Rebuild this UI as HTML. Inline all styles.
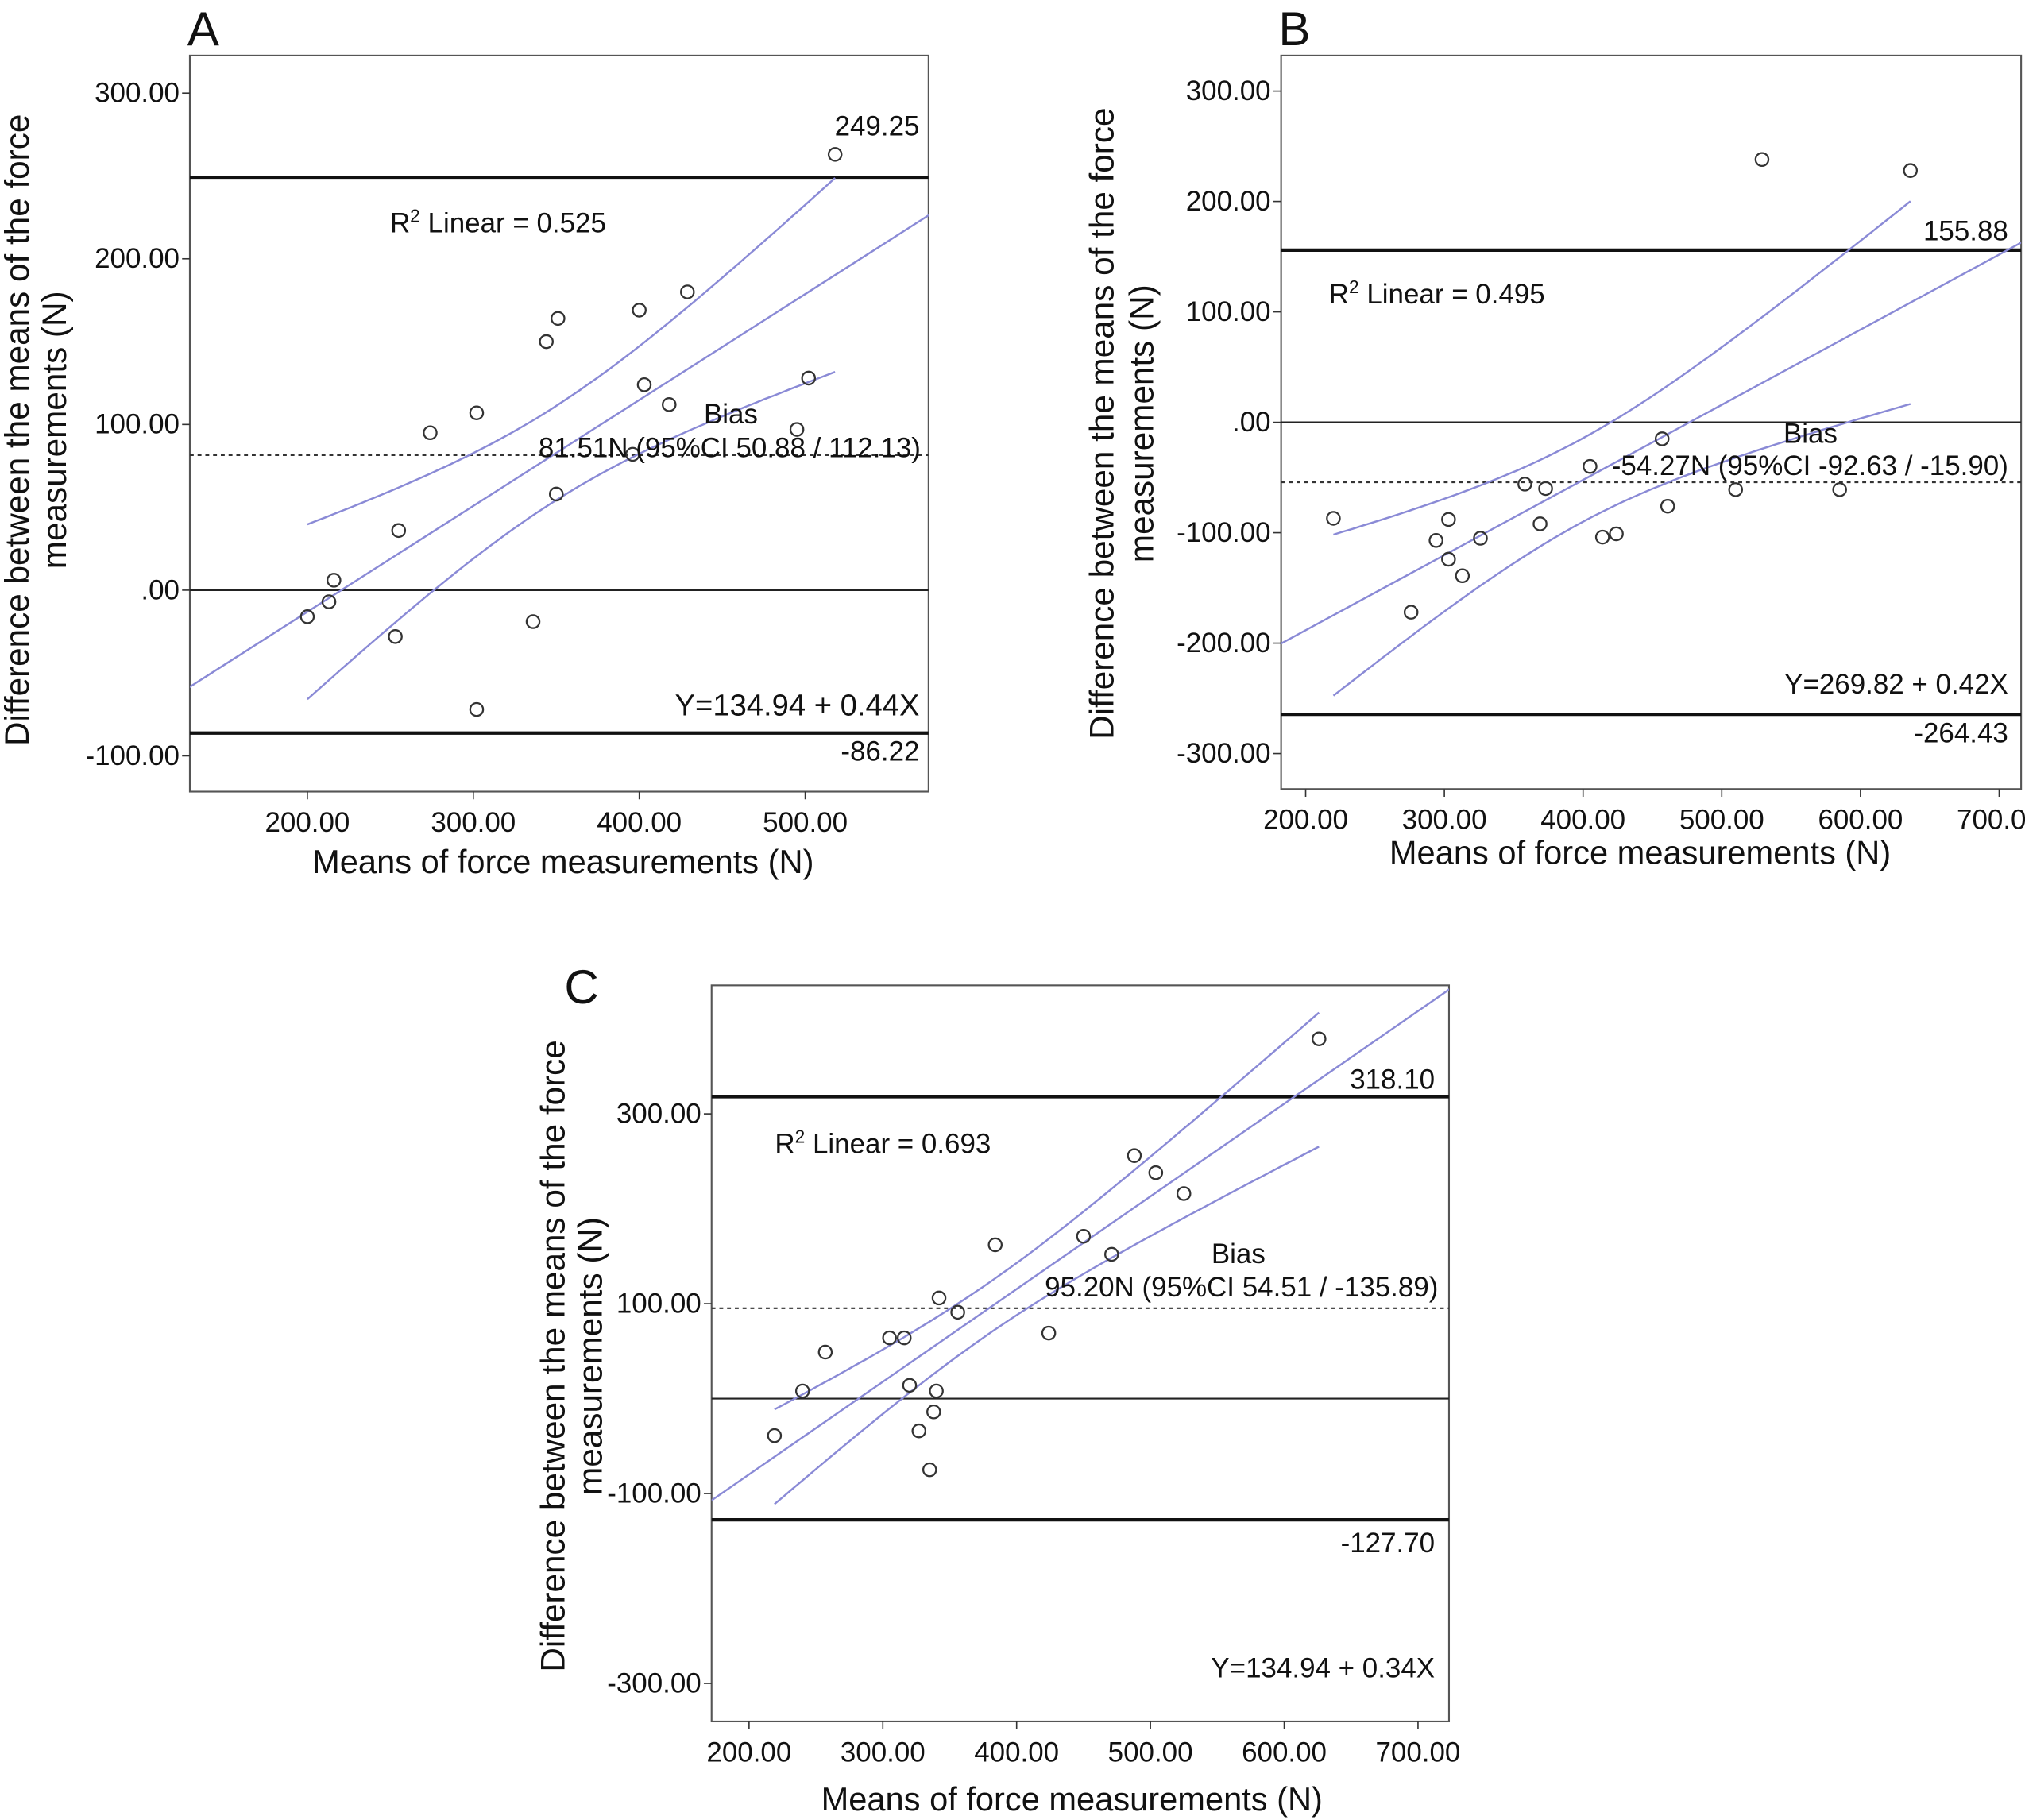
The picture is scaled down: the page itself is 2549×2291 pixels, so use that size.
<!DOCTYPE html>
<html><head><meta charset="utf-8"><style>
html,body{margin:0;padding:0;background:#fff}
svg{display:block}
text{font-family:"Liberation Sans",Arial,sans-serif;fill:#111}
</style></head><body>
<svg id="fig" width="2549" height="2291" viewBox="0 0 1568 1409.3" xmlns="http://www.w3.org/2000/svg"></svg>
<script>
// Panel A data
const aMeans=[200,213,216,253,255,274,302,302,336,344,351,350,400,403,396,418,429,502,495,518];
const aDiffs=[-16,-7,6,-28,36,95,-72,107,-19,150,164,58,169,124,82,112,180,128,97,263];
const aTicksX=[200,300,400,500];const aTicksY=[300,200,100,0,-100];
const aLimits=[249.25,-86.22];const aBias=81.51;
// Panel B data
const bMeans=[220,276,294,303,303,313,326,358,369,373,405,414,424,457,461,510,529,585,636];
const bDiffs=[-87,-172,-107,-88,-124,-139,-105,-56,-92,-60,-40,-104,-101,-15,-76,-61,238,-61,228];
const bTicksX=[200,300,400,500,600,700];const bTicksY=[300,200,100,0,-100,-200,-300];
const bLimits=[155.88,-264.43];const bBias=-54.27;
// Panel C data
const cMeans=[219,240,257,305,316,320,327,338,340,335,342,356,384,424,450,471,488,504,525,626];
const cDiffs=[-39,8,49,64,64,14,-34,-14,8,-75,106,91,162,69,171,152,256,238,216,379];
const cTicksX=[200,300,400,500,600,700];const cTicksY=[300,100,-100,-300];
const cLimits=[318.10,-127.70];const cBias=95.20;

const NS="http://www.w3.org/2000/svg",svg=document.getElementById('fig');
function mk(tag,attrs,parent,txt){const e=document.createElementNS(NS,tag);for(const k in attrs)e.setAttribute(k,attrs[k]);if(txt!==undefined)e.textContent=txt;(parent||svg).appendChild(e);return e;}
function fmt(v){if(v===0)return '.00';return v.toFixed(2);}
function panel(id,L,xs,ys,tx,ty,lim,bias){
  const g=mk('g',{});
  const X=v=>L.x0px+(v-L.x0)*L.kx, Y=v=>L.y0px-v*L.ky;
  const cp='clip'+id;const cd=mk('clipPath',{id:cp},g);mk('rect',{x:L.l,y:L.t,width:L.r-L.l,height:L.b-L.t},cd);
  const fr=mk('rect',{x:L.l,y:L.t,width:L.r-L.l,height:L.b-L.t,fill:'none',stroke:'#555','stroke-width':1.3},g);
  
  tx.forEach(v=>{mk('line',{x1:X(v),x2:X(v),y1:L.b,y2:L.b+6,stroke:'#333'},g);const t=mk('text',{x:X(v),y:L.b+31,'text-anchor':'middle','font-size':21.5},g,v.toFixed(2));});
  ty.forEach(v=>{mk('line',{x1:L.l-6,x2:L.l,y1:Y(v),y2:Y(v),stroke:'#333'},g);const t=mk('text',{x:L.l-8,y:Y(v)+7,'text-anchor':'end','font-size':21.5},g,fmt(v));});
  const inner=mk('g',{'clip-path':'url(#'+cp+')'},g);
  let z=mk('line',{x1:L.l,x2:L.r,y1:Y(0),y2:Y(0),stroke:'#222','stroke-width':1.3},inner);
  lim.forEach((v,i)=>{const l=mk('line',{x1:L.l,x2:L.r,y1:Y(v),y2:Y(v),stroke:'#111','stroke-width':2.6},inner);});
  const bl=mk('line',{x1:L.l,x2:L.r,y1:Y(bias),y2:Y(bias),stroke:'#333','stroke-width':1.3,'stroke-dasharray':'3,3'},inner);
  const n=xs.length,mx=xs.reduce((a,b)=>a+b)/n,my=ys.reduce((a,b)=>a+b)/n;
  let sxx=0,sxy=0;for(let i=0;i<n;i++){sxx+=(xs[i]-mx)**2;sxy+=(xs[i]-mx)*(ys[i]-my);}
  const bb=sxy/sxx,aa=my-bb*mx;let sse=0;for(let i=0;i<n;i++)sse+=(ys[i]-aa-bb*xs[i])**2;const s=Math.sqrt(sse/(n-2)),t=2.1;
  const x1=L.x0-(L.x0px-L.l)/L.kx-5,x2=L.x0+(L.r-L.x0px)/L.kx+5;
  const rl=mk('line',{x1:X(x1),y1:Y(aa+bb*x1),x2:X(x2),y2:Y(aa+bb*x2),stroke:'#8a8ad6','stroke-width':1.5},inner);
  const xmin=Math.min(...xs),xmax=Math.max(...xs);
  [1,-1].forEach(sg=>{let d='';for(let k=0;k<=60;k++){const x=xmin+(xmax-xmin)*k/60;const y=aa+bb*x+sg*t*s*Math.sqrt(1/n+(x-mx)**2/sxx);d+=(k?'L':'M')+X(x).toFixed(1)+','+Y(y).toFixed(1);}
    const p=mk('path',{d:d,fill:'none',stroke:'#8a8ad6','stroke-width':1.5},inner);});
  for(let i=0;i<n;i++){const c=mk('circle',{cx:X(xs[i]),cy:Y(ys[i]),r:5,fill:'none',stroke:'#333','stroke-width':1.4},inner);}
  return g;
}
function txt(x,y,s,size,anchor,name,rot){const t=mk('text',{x:x,y:y,'font-size':size,'text-anchor':anchor||'start'});if(rot)t.setAttribute('transform','rotate(-90 '+x+' '+y+')');t.innerHTML=s;return t;}

panel('a',{l:147,r:719,t:43,b:613,x0:200,x0px:238,kx:1.285,y0px:457,ky:1.283},aMeans,aDiffs,aTicksX,aTicksY,aLimits,aBias);
panel('b',{l:992,r:1565,t:43,b:611,x0:200,x0px:1011,kx:1.074,y0px:327,ky:0.855},bMeans,bDiffs,bTicksX,bTicksY,bLimits,bBias);
panel('c',{l:551,r:1122,t:763,b:1333,x0:200,x0px:580,kx:1.036,y0px:1083,ky:0.735},cMeans,cDiffs,cTicksX,cTicksY,cLimits,cBias);

txt(145,35,'A',37,'start','panel-a-title');txt(990,35,'B',37,'start','panel-b-title');txt(437,777,'C',37,'start','panel-c-title');
const AS=21.5;
txt(712,105,'249.25',AS,'end','upper-limit-label');txt(302,180,'R<tspan font-size="14" dy="-8">2</tspan><tspan dy="8"> Linear = 0.525</tspan>',AS,'start','r2-label');
txt(545,328,'Bias',AS,'start','bias-title');txt(417,354,'81.51N (95%CI 50.88 / 112.13)',AS,'start','bias-label');
txt(712,554,'Y=134.94 + 0.44X',23.5,'end','regression-equation');txt(712,589,'-86.22',AS,'end','lower-limit-label');
txt(436,676,'Means of force measurements (N)',25.6,'middle','x-axis-title');
txt(22,333,'Difference between the means of the force',26,'middle','y-axis-title',true);txt(51,333,'measurements (N)',26,'middle','y-axis-title-line2',true);
txt(1555,186,'155.88',AS,'end','upper-limit-label');txt(1029,235,'R<tspan font-size="14" dy="-8">2</tspan><tspan dy="8"> Linear = 0.495</tspan>',AS,'start','r2-label');
txt(1381,343,'Bias',AS,'start','bias-title');txt(1248,368,'-54.27N (95%CI -92.63 / -15.90)',AS,'start','bias-label');
txt(1555,537,'Y=269.82 + 0.42X',AS,'end','regression-equation');txt(1555,575,'-264.43',AS,'end','lower-limit-label');
txt(1270,669,'Means of force measurements (N)',25.6,'middle','x-axis-title');
txt(862,328,'Difference between the means of the force',26,'middle','y-axis-title',true);txt(893,328,'measurements (N)',26,'middle','y-axis-title-line2',true);
txt(1111,843,'318.10',AS,'end','upper-limit-label');txt(600,893,'R<tspan font-size="14" dy="-8">2</tspan><tspan dy="8"> Linear = 0.693</tspan>',AS,'start','r2-label');
txt(938,978,'Bias',AS,'start','bias-title');txt(809,1004,'95.20N (95%CI 54.51 / -135.89)',AS,'start','bias-label');
txt(1111,1202,'-127.70',AS,'end','lower-limit-label');txt(1111,1299,'Y=134.94 + 0.34X',AS,'end','regression-equation');
txt(830,1402,'Means of force measurements (N)',25.6,'middle','x-axis-title');
txt(437,1050,'Difference between the means of the force',26,'middle','y-axis-title',true);txt(466,1050,'measurements (N)',26,'middle','y-axis-title-line2',true);
</script>
</body></html>
